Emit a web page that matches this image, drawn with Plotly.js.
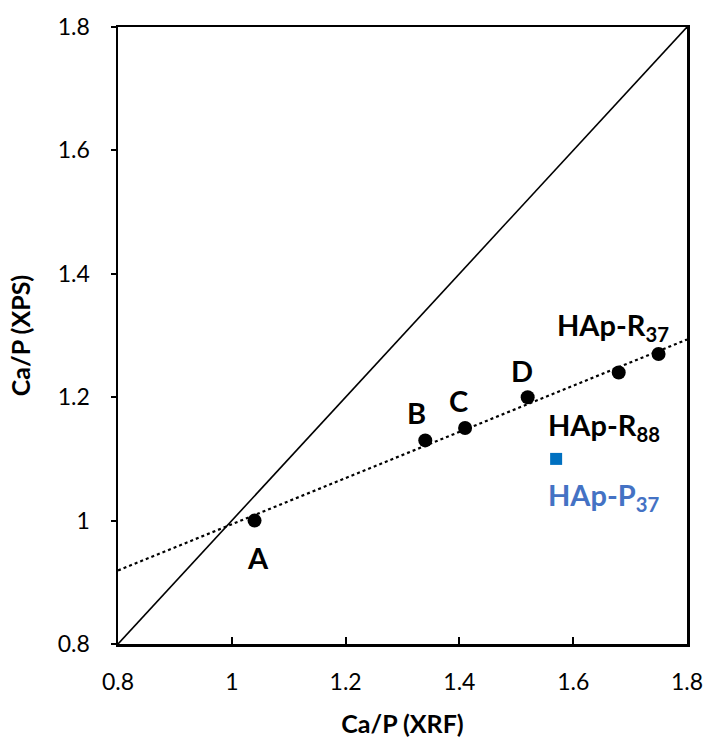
<!DOCTYPE html>
<html><head><meta charset="utf-8">
<script src="https://cdn.plot.ly/plotly-3.0.1.min.js"></script>
<style>html,body{margin:0;padding:0;background:#fff;}#chart{width:708px;height:743px;}</style>
</head><body><div id="chart"></div>
<script>
const sampleNames = ["A", "B", "C", "D", "HAp-R88", "HAp-R37"];
const xrfValues = [1.04, 1.34, 1.41, 1.52, 1.68, 1.75];
const xpsValues = [1.00, 1.13, 1.15, 1.20, 1.24, 1.27];
const plasmaName = ["HAp-P37"];
const plasmaXrf = [1.57];
const plasmaXps = [1.10];
const tickValues = [0.8, 1.0, 1.2, 1.4, 1.6, 1.8];
const tickLabels = ["0.8", "1", "1.2", "1.4", "1.6", "1.8"];

// linear trend fitted to the black points
const n = xrfValues.length;
const mx = xrfValues.reduce((a,b)=>a+b,0)/n;
const my = xpsValues.reduce((a,b)=>a+b,0)/n;
let sxy=0, sxx=0;
for (let i=0;i<n;i++){ sxy+=(xrfValues[i]-mx)*(xpsValues[i]-my); sxx+=(xrfValues[i]-mx)**2; }
const slope = sxy/sxx, icpt = my - slope*mx;
const xr = [tickValues[0], tickValues[tickValues.length-1]];

const traces = [
  {x: xr, y: xr, mode: "lines", line: {color: "#000", width: 1.6}, hoverinfo: "skip", showlegend: false},
  {x: xr, y: xr.map(v=>icpt+slope*v), mode: "lines", line: {color: "#000", width: 2.2, dash: "dot"}, showlegend: false},
  {x: xrfValues, y: xpsValues, mode: "markers", marker: {color: "#000", size: 14, symbol: "circle"}, text: sampleNames, showlegend: false},
  {x: plasmaXrf, y: plasmaXps, mode: "markers", marker: {color: "#0070C0", size: 12, symbol: "square"}, text: plasmaName, showlegend: false}
];

const F = "Lato, 'Open Sans', sans-serif";
const lab = (t, x, y, c) => ({text: t, x: x, y: y, xref: "x", yref: "y", showarrow: false,
  font: {family: F, size: 29, color: c || "#000"}});
const annotations = [
  lab("<b>A</b>", 1.046, 0.941),
  lab("<b>B</b>", 1.324, 1.175),
  lab("<b>C</b>", 1.398, 1.194),
  lab("<b>D</b>", 1.510, 1.243),
  lab("<b>HAp-R<sub>37</sub></b>", 1.670, 1.315),
  lab("<b>HAp-R<sub>88</sub></b>", 1.654, 1.152),
  lab("<b>HAp-P<sub>37</sub></b>", 1.654, 1.039, "#4472C4")
];

const axisBase = {range: xr, tickvals: tickValues, ticktext: tickLabels, showgrid: false, zeroline: false,
  showline: true, linecolor: "#000", linewidth: 2.5, mirror: true, ticklen: 7, tickwidth: 2, tickcolor: "#000",
  tickfont: {family: F, size: 23, color: "#000"}};

const layout = {
  width: 708, height: 743,
  margin: {l: 118, r: 21, t: 27, b: 99},
  paper_bgcolor: "#fff", plot_bgcolor: "#fff",
  xaxis: Object.assign({}, axisBase, {ticks: "inside", ticklabelstandoff: 16,
    title: {text: "<b>Ca/P (XRF)</b>", font: {family: F, size: 25, color: "#000"}, standoff: 22}}),
  yaxis: Object.assign({}, axisBase, {ticks: "outside", ticklen: 5, ticklabelstandoff: 16,
    title: {text: "<b>Ca/P (XPS)</b>", font: {family: F, size: 25, color: "#000"}, standoff: 20}}),
  annotations: annotations,
  showlegend: false
};
Plotly.newPlot("chart", traces, layout, {displayModeBar: false, staticPlot: true});
</script></body></html>
